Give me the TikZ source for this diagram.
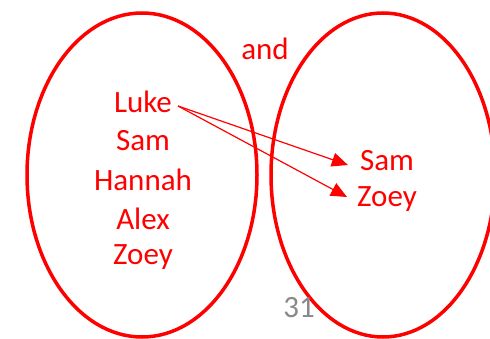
\documentclass[tikz,border=0pt]{standalone}
\usepackage{fontspec}
\setmainfont{Carlito}
\usetikzlibrary{arrows.meta}
\definecolor{vred}{RGB}{255,0,0}
\definecolor{pgray}{RGB}{137,137,137}
\begin{document}
\begin{tikzpicture}[x=1pt,y=-1pt,
  setring/.style={draw=vred,line width=3.5pt},
  lbl/.style={text=vred,font=\fontsize{31}{34}\selectfont,inner sep=0pt},
  maparrow/.style={draw=vred,line width=1.2pt,-{Triangle[length=16pt,width=14pt]}}]
\clip (0,0) rectangle (490,339);
\useasboundingbox (0,0) rectangle (490,339);
\draw[setring] (142,175) ellipse [x radius=115,y radius=162];
\draw[setring] (383,175) ellipse [x radius=112,y radius=162];
\node[lbl] (and) at (265,49) {and};
\node[lbl] (luke) at (143,102) {Luke};
\node[lbl] (sam1) at (143,141) {Sam};
\node[lbl] (hannah) at (143,180) {Hannah};
\node[lbl] (alex) at (143,219) {Alex};
\node[lbl] (zoey1) at (143,257) {Zoey};
\node[lbl] (sam2) at (387,161) {Sam};
\node[lbl] (zoey2) at (387,199) {Zoey};
\node[text=pgray,font=\fontsize{31}{34}\selectfont,inner sep=0pt] (page) at (299,308) {31};
\coordinate (ls) at (178,106);
\draw[maparrow] (ls) -- ([xshift=-12pt,yshift=-4pt]sam2.west);
\draw[maparrow] (ls) -- ([xshift=-10pt,yshift=2pt]zoey2.west);
\end{tikzpicture}
\end{document}
